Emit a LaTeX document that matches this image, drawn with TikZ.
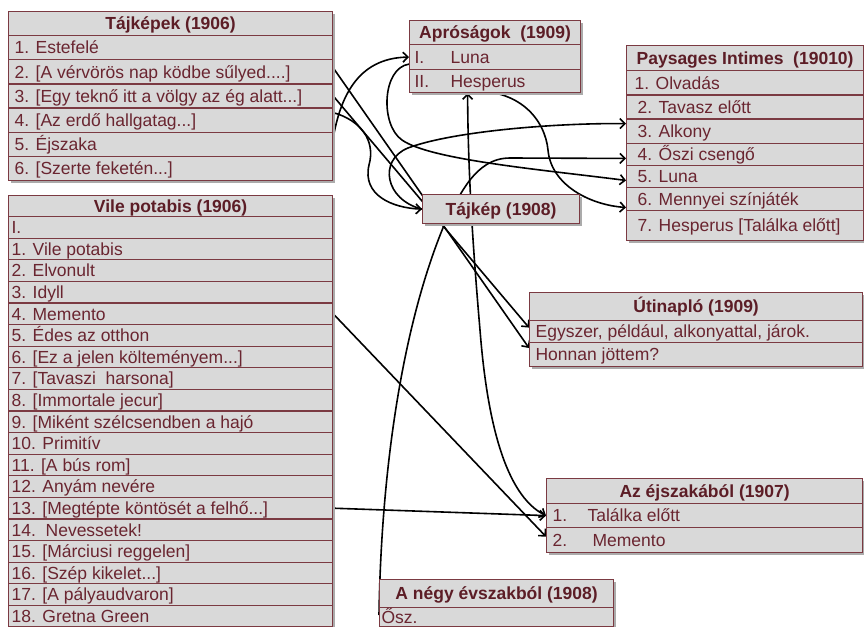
\documentclass[tikz,border=0pt]{standalone}
\usepackage{fontspec}
\setmainfont{Liberation Sans}
\usetikzlibrary{arrows.meta}
\definecolor{cellc}{HTML}{D9D9D9}
\definecolor{bordc}{HTML}{7B3A42}
\definecolor{hdrc}{HTML}{5C1D26}
\definecolor{rowc}{HTML}{6A2530}
\definecolor{shc}{HTML}{ABABAB}
\pgfdeclarelayer{bg}
\pgfsetlayers{bg,main}
\newcommand\fs{\fontsize{17.5pt}{20pt}\selectfont}
\newcommand\shbox[4]{\fill[shc] ({#1+3},{#2+3}) rectangle ({#3+3},{#4+3});}
\newcommand\cellrow[7]{\node[cell, inner xsep=#5, minimum height=#4] (#1) at (#2,#3) {\makebox[#6][l]{#7}};}
\tikzset{
  hdr/.style={draw=bordc, fill=cellc, line width=1.2pt, anchor=north west, inner sep=0pt,
    font=\bfseries\fs, text=hdrc, align=center, text height=12.5pt, text depth=0pt},
  cell/.style={draw=bordc, fill=cellc, line width=1.2pt, anchor=north west, inner ysep=0pt,
    font=\fs, text=rowc, text height=12.5pt, text depth=0pt},
  conn/.style={line width=1.6pt, -{Straight Barb[length=5pt,width=10pt]}},
  conntwo/.style={line width=1.6pt, {Straight Barb[length=5pt,width=10pt]}-{Straight Barb[length=5pt,width=10pt]}},
}
\begin{document}
\begin{tikzpicture}[x=1pt,y=-1pt]
\useasboundingbox (0,0) rectangle (864,626);
\begin{pgfonlayer}{bg}
\fill[white] (0,0) rectangle (864,626);
\end{pgfonlayer}
\clip (0,0) rectangle (864,626);

% shadows
\shbox{8}{11}{332}{179.9}
\shbox{8}{195}{332}{626.4}
\shbox{409}{20}{580}{92}
\shbox{626}{45}{863}{240}
\shbox{422}{194}{579}{223}
\shbox{529}{292}{862}{366}
\shbox{546}{478}{862}{552}
\shbox{379}{579}{613}{628}

% Tajkepek (1906)
\node[hdr, minimum width=324pt, minimum height=24pt] (tkh) at (8,11) {Tájképek (1906)};
\cellrow{tk1}{8}{35}{24.15pt}{6pt}{312pt}{1. Estefelé}
\cellrow{tk2}{8}{59.15}{24.15pt}{6pt}{312pt}{2. [A vérvörös nap ködbe sűlyed....]}
\cellrow{tk3}{8}{83.3}{24.15pt}{6pt}{312pt}{3. [Egy teknő itt a völgy az ég alatt...]}
\cellrow{tk4}{8}{107.45}{24.15pt}{6pt}{312pt}{4. [Az erdő hallgatag...]}
\cellrow{tk5}{8}{131.6}{24.15pt}{6pt}{312pt}{5. Éjszaka}
\cellrow{tk6}{8}{155.75}{24.15pt}{6pt}{312pt}{6. [Szerte feketén...]}

% Vile potabis (1906)
\node[hdr, minimum width=324pt, minimum height=21pt] (vph) at (8,195) {Vile potabis (1906)};
\cellrow{vp0}{8}{216}{21.6pt}{3pt}{318pt}{I.}
\cellrow{vp1}{8}{237.6}{21.6pt}{3pt}{318pt}{1. Vile potabis}
\cellrow{vp2}{8}{259.2}{21.6pt}{3pt}{318pt}{2. Elvonult}
\cellrow{vp3}{8}{280.8}{21.6pt}{3pt}{318pt}{3. Idyll}
\cellrow{vp4}{8}{302.4}{21.6pt}{3pt}{318pt}{4. Memento}
\cellrow{vp5}{8}{324}{21.6pt}{3pt}{318pt}{5. Édes az otthon}
\cellrow{vp6}{8}{345.6}{21.6pt}{3pt}{318pt}{6. [Ez a jelen költeményem...]}
\cellrow{vp7}{8}{367.2}{21.6pt}{3pt}{318pt}{7. [Tavaszi\ \ harsona]}
\cellrow{vp8}{8}{388.8}{21.6pt}{3pt}{318pt}{8. [Immortale jecur]}
\cellrow{vp9}{8}{410.4}{21.6pt}{3pt}{318pt}{9. [Miként szélcsendben a hajó}
\cellrow{vp10}{8}{432}{21.6pt}{3pt}{318pt}{10. Primitív}
\cellrow{vp11}{8}{453.6}{21.6pt}{3pt}{318pt}{11. [A bús rom]}
\cellrow{vp12}{8}{475.2}{21.6pt}{3pt}{318pt}{12. Anyám nevére}
\cellrow{vp13}{8}{496.8}{21.6pt}{3pt}{318pt}{13. [Megtépte köntösét a felhő...]}
\cellrow{vp14}{8}{518.4}{21.6pt}{3pt}{318pt}{14.\ \ Nevessetek!}
\cellrow{vp15}{8}{540}{21.6pt}{3pt}{318pt}{15. [Márciusi reggelen]}
\cellrow{vp16}{8}{561.6}{21.6pt}{3pt}{318pt}{16. [Szép kikelet...]}
\cellrow{vp17}{8}{583.2}{21.6pt}{3pt}{318pt}{17. [A pályaudvaron]}
\cellrow{vp18}{8}{604.8}{21.2pt}{3pt}{318pt}{18. Gretna Green}

% Aprosagok (1909)
\node[hdr, minimum width=171pt, minimum height=24pt] (aph) at (409,20) {Apróságok\ \ (1909)};
\cellrow{ap1}{409}{44}{25pt}{5pt}{161pt}{\makebox[36pt][l]{I.}Luna}
\cellrow{ap2}{409}{69}{23pt}{5pt}{161pt}{\makebox[36pt][l]{II.}Hesperus}

% Paysages Intimes
\node[hdr, minimum width=237pt, minimum height=25pt] (pih) at (626,45) {Paysages Intimes\ \ (19010)};
\cellrow{pi1}{626}{70}{24.3pt}{8pt}{221pt}{1. Olvadás}
\cellrow{pi2}{626}{94.3}{24pt}{11pt}{215pt}{2. Tavasz előtt}
\cellrow{pi3}{626}{118.3}{24.4pt}{11pt}{215pt}{3. Alkony}
\cellrow{pi4}{626}{142.7}{22.3pt}{11pt}{215pt}{4. Őszi csengő}
\cellrow{pi5}{626}{165}{21.7pt}{11pt}{215pt}{5. Luna}
\cellrow{pi6}{626}{186.7}{23.3pt}{11pt}{215pt}{6. Mennyei színjáték}
\cellrow{pi7}{626}{210}{30pt}{11pt}{215pt}{7. Hesperus [Találka előtt]}

% Utinaplo (1909)
\node[hdr, minimum width=333pt, minimum height=28pt] (uth) at (529,292) {Útinapló (1909)};
\cellrow{ut1}{529}{320}{22pt}{6pt}{321pt}{Egyszer, például, alkonyattal, járok.}
\cellrow{ut2}{529}{342}{24pt}{6pt}{321pt}{Honnan jöttem?}

% Az ejszakabol (1907)
\node[hdr, minimum width=316pt, minimum height=25pt] (ajh) at (546,478) {Az éjszakából (1907)};
\cellrow{aj1}{546}{503}{24pt}{6pt}{304pt}{\makebox[35pt][l]{1.}Találka előtt}
\cellrow{aj2}{546}{527}{25pt}{6pt}{304pt}{\makebox[40pt][l]{2.}Memento}

% A negy evszakbol (1908)
\node[hdr, minimum width=234pt, minimum height=28pt] (neh) at (379,579) {A négy évszakból (1908)};
\cellrow{ne1}{379}{607}{18.6pt}{2pt}{230pt}{Ősz.}

% Tajkep (1908)
\node[hdr, minimum width=157pt, minimum height=29pt] (tjk) at (422,194) {Tájkép (1908)};

% connectors
\begin{pgfonlayer}{bg}
\draw[conn] ([yshift=4pt]tk2.east) -- ([yshift=-6pt]ut2.north west);
\draw[conn] (tk3.east) -- ([yshift=4pt]ut1.west);
\draw[conn] ([yshift=7.5pt]tk4.east) .. controls (360,120) and (376,140) .. (369,165)
  .. controls (362,195) and (392,208) .. (tjk.west);
\draw[conn] ([yshift=6.5pt]tk5.east) .. controls (340,100) and (356,58) .. (ap1.west);
\draw[conn] ([yshift=-7pt]ap1.west) .. controls (382,68) and (380,125) .. (402,140)
  .. controls (430,160) and (545,170) .. ([yshift=-4pt]pi5.west);
\draw[conn] (tjk.west) .. controls (385,200) and (378,160) .. (408,148)
  .. controls (450,132) and (550,123) .. ([yshift=7.5pt]pi3.west);
\draw[conn] ([yshift=-8pt]ne1.north west) .. controls (381,480) and (400,330) .. (445,223)
  .. controls (460,195) and (475,158) .. (510,158) -- ([yshift=-4pt]pi4.west);
\draw[conn] ([xshift=-27.5pt,yshift=2pt]ap2.south) .. controls (520,88) and (545,120) .. (548,150)
  .. controls (551,185) and (590,205) .. ([yshift=-8.5pt]pi6.west);
\draw[conntwo] (aj1.west) .. controls (505,495) and (487,420) .. (480,330)
  .. controls (474,260) and (468,180) .. ([xshift=-27.5pt]ap2.south);
\draw[conn] (vp4.east) -- ([yshift=3.5pt]aj2.west);
\draw[conn] (vp13.east) -- (aj1.west);
\end{pgfonlayer}
\end{tikzpicture}
\end{document}
